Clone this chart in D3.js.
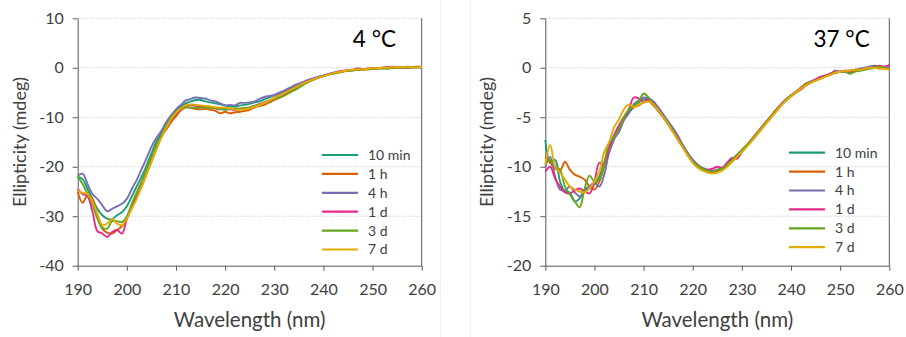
<!DOCTYPE html>
<html>
<head>
<meta charset="utf-8">
<script src="https://cdn.jsdelivr.net/npm/d3@7/dist/d3.min.js"></script>
<style>
  html, body { margin: 0; padding: 0; background: #fff; }
  svg { display: block; font-family: Lato, "Open Sans", sans-serif; }
</style>
</head>
<body>
<svg id="chart" width="906" height="337"></svg>
<script>
// Wavelength grid (nm), one reading per nm
const wavelengths = d3.range(190, 261, 1);

const seriesNames = ["10 min", "1 h", "4 h", "1 d", "3 d", "7 d"];
const seriesColors = ["#1b9e77", "#d95f02", "#7570b3", "#e7298a", "#66a61e", "#e6ab02"];

// CD spectra at 4 °C (mdeg), 190–260 nm
const cold10min = [-22,-22.5,-24.5,-26.5,-28.5,-29.8,-30.5,-30.6,-29.8,-29.2,
  -28,-26,-24,-22,-19.8,-17.3,-15,-13.3,-11.3,-9.8,
  -8.6,-7.8,-7.2,-6.8,-6.5,-6.5,-6.8,-7,-7.2,-7.4,
  -7.6,-7.8,-7.9,-7.6,-7.5,
  -7.3,-7.0,-6.8,-6.4,-6.0,-5.6,-5.2,-4.8,-4.3,-3.9,-3.4,-3.0,-2.6,-2.2,-1.9,-1.6,-1.3,-1.1,-0.9,-0.7,-0.6,-0.5,-0.4,-0.3,-0.2,-0.2,-0.1,-0.1,0,0,0.1,0,0.1,0.1,0.2,0.2];
const cold1h = [-25,-27.3,-25.8,-26.5,-30,-32.5,-33.3,-33.5,-32.8,-32,
  -30.5,-28,-26,-24,-21.5,-19,-16.5,-14,-12.5,-11,
  -9.8,-8.6,-8,-8.1,-8.3,-8.4,-8.3,-8.5,-8.7,-9.2,
  -8.9,-9.2,-9.0,-8.9,-8.7,
  -8.5,-8.0,-7.7,-7.5,-7.0,-6.5,-6.1,-5.5,-5.0,-4.4,-3.8,-3.3,-2.8,-2.4,-2.0,-1.7,-1.4,-1.1,-0.9,-0.7,-0.6,-0.5,-0.4,-0.3,-0.3,-0.2,-0.1,-0.1,0,0.1,0,0.1,0.2,0.1,0.1,0.1];
const cold4h = [-21.8,-21.4,-23.5,-25.5,-26.5,-27.8,-29,-28.5,-28,-27.5,
  -26.5,-24.5,-22.7,-20.5,-18.3,-16,-14.2,-12.8,-11,-9.6,
  -8.4,-7.5,-6.6,-6.3,-6,-6.1,-6.2,-6.6,-6.8,-7.2,
  -7.6,-7.5,-7.6,-7.1,-7.1,
  -7.0,-6.8,-6.3,-5.9,-5.7,-5.5,-5.0,-4.6,-4.1,-3.6,-3.2,-2.8,-2.4,-2.1,-1.8,-1.6,-1.3,-1.0,-0.8,-0.7,-0.5,-0.4,-0.4,-0.3,-0.2,-0.1,-0.1,0,0,0.1,0.1,0.1,0,0.1,0.1,0.1];
const cold1d = [-24.5,-25.5,-26,-29,-33,-33.5,-34.2,-33.2,-32.8,-33.5,
  -30.5,-28,-26,-23.8,-21.2,-18.6,-16.2,-14,-12.2,-10.6,
  -9.3,-8.3,-7.7,-7.5,-7.7,-7.8,-7.9,-8.0,-8.2,-8.4,
  -8.3,-8.4,-8.5,-8.3,-8.2,
  -8.0,-7.7,-7.3,-7.0,-6.6,-6.1,-5.6,-5.1,-4.6,-4.1,-3.6,-3.1,-2.7,-2.3,-2.0,-1.7,-1.3,-1.1,-0.8,-0.6,-0.5,-0.4,-0.1,-0.3,-0.2,-0.1,-0.1,0,0.1,0.2,0.1,0.1,0,0.1,0.2,0.1];
const cold3d = [-22,-23.5,-25.5,-27.5,-30.5,-32.3,-32.5,-31,-31,-31.2,
  -30,-27.5,-25.2,-23,-20.5,-18,-15.8,-13.8,-11.8,-10,
  -9,-8.2,-8,-8,-8,-8.1,-8,-8.1,-8.2,-8.3,
  -8.5,-8.3,-8.3,-8.2,-8.1,
  -8.0,-7.7,-7.4,-7.1,-6.7,-6.3,-6.0,-5.7,-5.1,-4.6,-4.0,-3.4,-2.8,-2.4,-2.0,-1.7,-1.4,-1.2,-1.0,-0.8,-0.6,-0.5,-0.4,-0.3,-0.3,-0.2,-0.1,-0.1,-0.2,0,0,0.1,0,0.1,0.1,0.1];
const cold7d = [-24.8,-25.3,-25.5,-27,-29.5,-31.8,-31.5,-30.5,-31.5,-31.8,
  -30.5,-28.5,-26.5,-24,-21.5,-19,-16.5,-14.2,-12.2,-10.4,
  -9.1,-8.2,-7.6,-7.4,-7.5,-7.6,-7.7,-7.8,-8,-8,
  -8.1,-8.2,-8.4,-8.5,-8.4,
  -8.2,-7.9,-7.5,-7.1,-6.6,-6.1,-5.6,-5.1,-4.6,-4.1,-3.6,-3.1,-2.7,-2.3,-2.0,-1.7,-1.4,-1.1,-0.9,-0.7,-0.5,-0.4,-0.3,-0.3,-0.2,-0.1,-0.1,0,0,0.1,0.1,0.1,0.2,0.1,0.1,0.2];

// CD spectra at 37 °C (mdeg), 190–260 nm
const warm10min = [-7.3,-9.5,-9.3,-11.5,-12.5,-12.6,-13.5,-13.2,-12.3,-12,
  -11.8,-11,-9.5,-8,-7,-6,-5,-4.5,-4,-3.5,
  -3.2,-3.2,-3.6,-4.2,-4.8,-5.5,-6.3,-7.1,-7.9,-8.7,
  -9.3,-9.8,-10.2,-10.4,-10.5,-10.4,-10.2,-9.9,-9.5,-9,
  -8.4,-7.9,-7.3,-6.7,-6.1,-5.5,-4.9,-4.3,-3.7,-3.2,
  -2.8,-2.5,-2.1,-1.7,-1.4,-1.2,-1,-0.8,-0.7,-0.5,
  -0.4,-0.4,-0.5,-0.3,-0.2,-0.1,0.1,0.2,0.1,0,0];
const warm1h = [-9,-9.6,-10.2,-10.4,-9.5,-10.3,-10.8,-11,-11.3,-12,
  -12.3,-11.5,-10,-8.5,-7.2,-6,-5,-4.3,-4,-3.8,
  -3.5,-3.4,-3.8,-4.4,-5,-5.7,-6.5,-7.3,-8,-8.8,
  -9.4,-9.9,-10.2,-10.5,-10.6,-10.4,-10.2,-9.8,-9.3,-8.8,
  -8.3,-7.8,-7.2,-6.6,-6,-5.4,-4.8,-4.2,-3.7,-3.2,
  -2.8,-2.4,-2,-1.6,-1.4,-1.2,-1.1,-0.8,-0.6,-0.5,
  -0.4,-0.3,-0.3,-0.3,-0.2,-0.1,0,0.1,0.1,0,-0.1];
const warm4h = [-10,-9,-11,-12.3,-12.4,-12,-12.6,-13,-12.5,-12,
  -11.6,-12,-10.8,-8.5,-7.2,-6.5,-5.3,-4.6,-3.7,-3.3,
  -3,-3.1,-3.4,-4,-4.7,-5.4,-6.1,-6.9,-7.8,-8.6,
  -9.3,-9.8,-10.1,-10.3,-10.4,-10.3,-10.1,-9.8,-9.4,-8.9,
  -8.4,-7.9,-7.4,-6.8,-6.2,-5.6,-5,-4.4,-3.8,-3.3,
  -2.9,-2.5,-2.1,-1.7,-1.4,-1.2,-1,-0.8,-0.6,-0.3,
  -0.4,-0.4,-0.3,-0.2,-0.1,0,0.1,0.1,0.1,0.1,0];
const warm1d = [-10.5,-10,-11.2,-12,-12.6,-12.7,-12.4,-12.2,-12.5,-12.7,
  -11.5,-9.6,-9.8,-8,-6.8,-5.8,-5,-4.2,-3,-3.1,
  -3.4,-3.2,-3.6,-4.3,-5,-5.7,-6.4,-7.2,-8,-8.8,
  -9.5,-9.9,-10.2,-10.3,-10.2,-10,-10.1,-9.6,-9.1,-9.2,
  -8.5,-7.9,-7.3,-6.7,-6.1,-5.5,-4.9,-4.3,-3.7,-3.2,
  -2.8,-2.5,-2.2,-1.8,-1.5,-1.2,-0.9,-0.8,-0.6,-0.4,
  -0.4,-0.3,-0.4,-0.3,-0.2,-0.1,0,0.1,0.2,0.1,0.3];
const warm3d = [-9.5,-9.3,-10,-10.3,-12,-12.8,-13.5,-14.1,-12.2,-10.9,
  -11.5,-11.3,-9.7,-7.6,-7,-6.2,-5,-4.2,-3.8,-3.4,
  -2.6,-3,-3.7,-4.3,-4.9,-5.6,-6.4,-7.2,-8,-8.8,
  -9.5,-9.9,-10.2,-10.4,-10.5,-10.3,-10.2,-9.8,-9.3,-8.8,
  -8.3,-7.8,-7.3,-6.7,-6.1,-5.5,-4.9,-4.3,-3.8,-3.2,
  -2.8,-2.5,-2.1,-1.7,-1.5,-1.3,-1.1,-0.9,-0.7,-0.5,
  -0.4,-0.4,-0.6,-0.4,-0.3,-0.2,-0.1,0,0.1,0,-0.1];
const warm7d = [-9.8,-7.8,-10,-10.6,-11.3,-12,-12.3,-12.5,-12.6,-12.2,
  -11.5,-10.5,-8.5,-7.5,-6,-5.2,-4.2,-3.7,-4,-3.7,
  -3.5,-3.4,-3.7,-4.3,-5,-5.7,-6.5,-7.3,-8.1,-8.9,
  -9.6,-10.1,-10.4,-10.6,-10.7,-10.6,-10.4,-10,-9.5,-9,
  -8.5,-8,-7.4,-6.8,-6.2,-5.6,-5,-4.4,-3.8,-3.3,
  -2.9,-2.5,-2.1,-1.8,-1.5,-1.3,-1.1,-0.9,-0.7,-0.5,
  -0.4,-0.3,-0.3,-0.2,-0.2,-0.1,0,0,-0.1,-0.1,-0.2];

const xTicks = [190, 200, 210, 220, 230, 240, 250, 260];
const coldYTicks = [10, 0, -10, -20, -30, -40];
const warmYTicks = [5, 0, -5, -10, -15, -20];

const panels = [
  { label: "4 °C", series: [cold10min, cold1h, cold4h, cold1d, cold3d, cold7d],
    yTicks: coldYTicks, left: 77.7, labelInset: 25.7, legendX: 322, legendY: 155 },
  { label: "37 °C", series: [warm10min, warm1h, warm4h, warm1d, warm3d, warm7d],
    yTicks: warmYTicks, left: 545.3, labelInset: 19.6, legendX: 789, legendY: 152.7 }
];

const plotW = 344, plotTop = 18.3, plotBottom = 265.7;
const axisColor = "#595959", textColor = "#404040";
const svg = d3.select("#chart");

// faint frames of the two chart boxes
svg.append("line").attr("x1", 440.5).attr("x2", 440.5).attr("y1", 0).attr("y2", 337)
  .attr("stroke", "#f0f0f0");
svg.append("line").attr("x1", 470.5).attr("x2", 470.5).attr("y1", 0).attr("y2", 337)
  .attr("stroke", "#f0f0f0");

panels.forEach(p => {
  const g = svg.append("g");
  const x = d3.scaleLinear().domain([190, 260]).range([p.left, p.left + plotW]);
  const yExt = d3.extent(p.yTicks);
  const y = d3.scaleLinear().domain(yExt).range([plotBottom, plotTop]);

  // dotted gridlines
  g.append("g").selectAll("line")
    .data(p.yTicks.filter(v => v !== yExt[0]))
    .join("line")
    .attr("x1", x(190)).attr("x2", x(260))
    .attr("y1", d => y(d)).attr("y2", d => y(d))
    .attr("stroke", "#d0d0d0").attr("stroke-width", 1).attr("stroke-dasharray", "1.5,1.5");

  // right frame line
  g.append("line").attr("x1", x(260)).attr("x2", x(260)).attr("y1", plotTop).attr("y2", plotBottom)
    .attr("stroke", axisColor).attr("stroke-width", 1);

  // y axis (plain hyphen-minus labels)
  const yAxis = g.append("g").attr("transform", `translate(${x(190)},0)`)
    .call(d3.axisLeft(y).tickValues(p.yTicks).tickFormat(d => String(d))
      .tickSize(5).tickPadding(9).tickSizeOuter(0));
  // x axis
  const xAxis = g.append("g").attr("transform", `translate(0,${plotBottom})`)
    .call(d3.axisBottom(x).tickValues(xTicks).tickFormat(d => String(d))
      .tickSize(5).tickPadding(13).tickSizeOuter(0));
  [yAxis, xAxis].forEach(a => {
    a.select(".domain").attr("stroke", axisColor);
    a.selectAll(".tick line").attr("stroke", axisColor);
    a.selectAll(".tick text").attr("fill", textColor)
      .style("font-size", "16px").style("font-family", "Lato, sans-serif");
  });

  // spectra
  const line = d3.line()
    .x((d, i) => x(wavelengths[i]))
    .y(d => y(d))
    .curve(d3.curveCatmullRom.alpha(0.5));
  g.append("g").selectAll("path")
    .data(p.series)
    .join("path")
    .attr("d", d => line(d))
    .attr("fill", "none")
    .attr("stroke", (d, i) => seriesColors[i])
    .attr("stroke-width", 1.9)
    .attr("stroke-linejoin", "round");

  // axis titles
  g.append("text")
    .attr("x", x(225)).attr("y", 327)
    .attr("text-anchor", "middle")
    .attr("fill", textColor).style("font-size", "20.5px")
    .text("Wavelength (nm)");
  g.append("text")
    .attr("transform", `translate(${p.left - 52},${(plotTop + plotBottom) / 2}) rotate(-90)`)
    .attr("text-anchor", "middle")
    .attr("fill", textColor).style("font-size", "18px")
    .text("Ellipticity (mdeg)");

  // panel temperature label
  g.append("text")
    .attr("x", x(260) - p.labelInset).attr("y", 47)
    .attr("text-anchor", "end")
    .attr("fill", "#000").style("font-size", "22.5px")
    .text(p.label);

  // legend
  const lg = g.append("g");
  const rows = lg.selectAll("g").data(seriesNames).join("g")
    .attr("transform", (d, i) => `translate(${p.legendX},${p.legendY + i * 18.9})`);
  rows.append("line").attr("x1", 0).attr("x2", 36)
    .attr("stroke", (d, i) => seriesColors[i]).attr("stroke-width", 2.2);
  rows.append("text").attr("x", 46).attr("dy", "0.35em")
    .attr("fill", textColor).style("font-size", "14px")
    .text(d => d);
});
</script>
</body>
</html>
